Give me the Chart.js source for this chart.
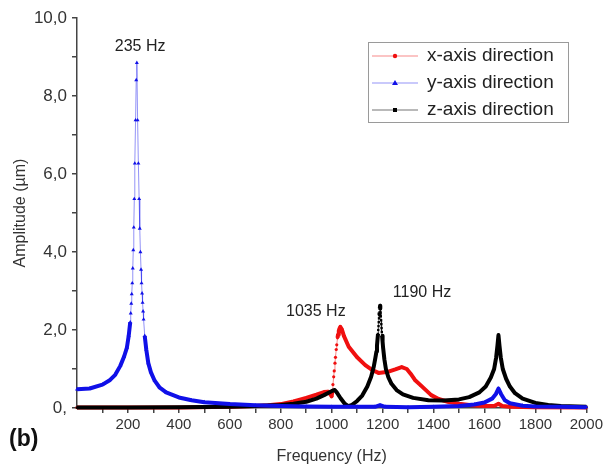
<!DOCTYPE html>
<html>
<head>
<meta charset="utf-8">
<script src="https://cdn.jsdelivr.net/npm/chart.js@4.4.1/dist/chart.umd.min.js"></script>
<style>
  html, body { margin: 0; padding: 0; background: #fff; }
  #wrap { width: 606px; height: 466px; }
</style>
</head>
<body>
<div id="wrap"><canvas id="ampChart" width="606" height="466"></canvas></div>
<script>
// x-axis direction (red)
var freqX = [0, 200, 400, 600, 700, 750, 800, 850, 900, 940, 970, 985, 995, 1000, 1003, 1005, 1008, 1010, 1013, 1015, 1018, 1020, 1023, 1025, 1028, 1031, 1034, 1040, 1048, 1067, 1100, 1132, 1160, 1184, 1223, 1250, 1275, 1295, 1310, 1327, 1350, 1391, 1420, 1456, 1500, 1550, 1600, 1640, 1655, 1670, 1700, 1800, 2000];
var ampX  = [0.01, 0.01, 0.015, 0.03, 0.05, 0.07, 0.1, 0.17, 0.26, 0.34, 0.41, 0.42, 0.35, 0.3, 0.45, 0.6, 0.8, 0.95, 1.15, 1.3, 1.5, 1.62, 1.8, 1.88, 1.98, 2.04, 2.08, 2.02, 1.85, 1.57, 1.3, 1.1, 0.97, 0.9, 0.93, 0.99, 1.05, 1.0, 0.88, 0.72, 0.58, 0.33, 0.23, 0.16, 0.11, 0.07, 0.05, 0.06, 0.11, 0.05, 0.03, 0.02, 0.01];

// y-axis direction (blue)
var freqY = [0, 50, 100, 130, 150, 170, 185, 196, 203, 209, 211, 213, 215, 217, 219, 221, 223, 225, 227, 230, 232.5, 235, 238, 241, 244, 246.5, 249, 251.5, 253.5, 255.5, 257.5, 259.5, 261.5, 266, 272, 280, 290, 305, 325, 350, 400, 450, 500, 600, 700, 800, 900, 1000, 1100, 1170, 1190, 1210, 1300, 1400, 1500, 1560, 1600, 1630, 1645, 1655, 1665, 1680, 1700, 1750, 1800, 1900, 2000];
var ampY  = [0.48, 0.5, 0.6, 0.72, 0.85, 1.08, 1.32, 1.55, 1.85, 2.2, 2.43, 2.68, 2.92, 3.2, 3.58, 4.05, 4.63, 5.36, 6.27, 7.38, 8.41, 8.85, 7.38, 6.27, 5.36, 4.6, 4.0, 3.55, 3.2, 2.94, 2.7, 2.48, 2.27, 1.85, 1.5, 1.15, 0.92, 0.7, 0.52, 0.4, 0.27, 0.2, 0.15, 0.1, 0.07, 0.05, 0.04, 0.03, 0.03, 0.03, 0.07, 0.03, 0.02, 0.03, 0.05, 0.09, 0.14, 0.24, 0.36, 0.5, 0.36, 0.2, 0.12, 0.06, 0.04, 0.03, 0.02];

// z-axis direction (black)
var freqZ = [0, 200, 400, 600, 700, 800, 850, 900, 940, 970, 990, 1005, 1012, 1020, 1035, 1050, 1065, 1080, 1100, 1120, 1140, 1155, 1165, 1172, 1176, 1178, 1180, 1182, 1183, 1184, 1185, 1186, 1187, 1188, 1189, 1190, 1191, 1192, 1193, 1194, 1195, 1196, 1197, 1198, 1200, 1202, 1207, 1213, 1222, 1235, 1255, 1280, 1320, 1380, 1440, 1500, 1540, 1580, 1605, 1625, 1638, 1646, 1651, 1655, 1659, 1664, 1672, 1685, 1700, 1720, 1750, 1800, 1850, 1900, 2000];
var ampZ  = [0.01, 0.01, 0.02, 0.03, 0.05, 0.08, 0.11, 0.16, 0.24, 0.33, 0.4, 0.45, 0.46, 0.4, 0.25, 0.12, 0.05, 0.08, 0.18, 0.32, 0.55, 0.8, 1.05, 1.3, 1.45, 1.6, 1.75, 1.9, 2.0, 2.1, 2.2, 2.3, 2.38, 2.45, 2.55, 2.62, 2.55, 2.45, 2.35, 2.25, 2.15, 2.05, 1.95, 1.85, 1.7, 1.55, 1.25, 1.0, 0.8, 0.62, 0.46, 0.35, 0.26, 0.2, 0.19, 0.22, 0.28, 0.4, 0.55, 0.78, 1.0, 1.3, 1.6, 1.87, 1.6, 1.3, 1.0, 0.75, 0.55, 0.38, 0.24, 0.13, 0.08, 0.05, 0.03];

var seriesNames = ['x-axis direction', 'y-axis direction', 'z-axis direction'];
var peakNotes = ['235 Hz', '1035 Hz', '1190 Hz'];
var peakNoteX = [248, 938, 1355];
var peakNoteY = [9.26, 2.46, 2.97];

function toPoints(xs, ys) {
  return xs.map(function (x, i) { return { x: x, y: ys[i] }; });
}

// dense markers look like a thick band, steep parts show single dots on a thin line
function steepTest(limit) {
  return function (ctx) {
    var dx = Math.abs(ctx.p1.x - ctx.p0.x);
    var dy = Math.abs(ctx.p1.y - ctx.p0.y);
    return dy > 2.5 && dy > limit * dx;
  };
}

var styles = [
  { color: '#f01010', light: 'rgba(240,40,40,0.55)', marker: 'circle', r: 1.6, order: 3, steep: 9 },
  { color: '#1010e8', light: 'rgba(40,40,240,0.5)', marker: 'triangle', r: 2.3, order: 1, steep: 9 },
  { color: '#000000', light: 'rgba(0,0,0,0.55)', marker: 'rect', r: 1.7, order: 2, steep: 12 }
];
var allData = [toPoints(freqX, ampX), toPoints(freqY, ampY), toPoints(freqZ, ampZ)];

var datasets = allData.map(function (pts, i) {
  var s = styles[i];
  var steep = steepTest(s.steep);
  return {
    label: seriesNames[i],
    data: pts,
    borderColor: s.color,
    backgroundColor: s.color,
    borderWidth: 4,
    borderJoinStyle: 'round',
    pointStyle: s.marker,
    pointRadius: s.r,
    pointBorderWidth: 0,
    pointBackgroundColor: s.color,
    order: s.order,
    clip: false,
    segment: {
      borderWidth: function (ctx) { return steep(ctx) ? 1 : 4; },
      borderColor: function (ctx) { return steep(ctx) ? s.light : s.color; }
    }
  };
});

// legend box drawn by hand: line with marker in the middle, like the original
var legendBox = {
  id: 'legendBox',
  afterDraw: function (chart) {
    var c = chart.ctx;
    var left = 368, top = 42, w = 200, h = 80;
    c.save();
    c.fillStyle = '#fff';
    c.fillRect(left, top, w, h);
    c.strokeStyle = '#9a9a9a';
    c.lineWidth = 1;
    c.strokeRect(left + 0.5, top + 0.5, w, h);
    c.font = '19px "Liberation Sans", Arial, sans-serif';
    c.textBaseline = 'middle';
    chart.data.datasets.forEach(function (ds, i) {
      var y = top + 14 + i * 27;
      var s = styles[i];
      c.strokeStyle = s.light;
      c.lineWidth = 1;
      c.beginPath();
      c.moveTo(left + 4, y);
      c.lineTo(left + 50, y);
      c.stroke();
      c.fillStyle = s.color;
      var mx = left + 27;
      if (s.marker === 'circle') {
        c.beginPath(); c.arc(mx, y, 2.2, 0, Math.PI * 2); c.fill();
      } else if (s.marker === 'triangle') {
        c.beginPath(); c.moveTo(mx, y - 3); c.lineTo(mx + 3, y + 2); c.lineTo(mx - 3, y + 2); c.closePath(); c.fill();
      } else {
        c.fillRect(mx - 2, y - 2, 4, 4);
      }
      c.fillStyle = '#222';
      c.fillText(ds.label, left + 59, y);
    });
    c.restore();
  }
};

// peak labels and the panel letter
var notes = {
  id: 'notes',
  afterDraw: function (chart) {
    var c = chart.ctx;
    var xs = chart.scales.x, ys = chart.scales.y;
    c.save();
    c.fillStyle = '#222';
    c.font = '16px "Liberation Sans", Arial, sans-serif';
    c.textAlign = 'center';
    c.textBaseline = 'middle';
    peakNotes.forEach(function (t, i) {
      c.fillText(t, xs.getPixelForValue(peakNoteX[i]), ys.getPixelForValue(peakNoteY[i]));
    });
    c.textAlign = 'left';
    c.font = 'bold 23px "Liberation Sans", Arial, sans-serif';
    c.fillStyle = '#111';
    c.fillText('(b)', 9, 440);
    c.restore();
  }
};

Chart.defaults.font.family = '"Liberation Sans", Arial, sans-serif';
Chart.defaults.color = '#333';

var ctx = document.getElementById('ampChart').getContext('2d');
var ampChart = new Chart(ctx, {
  type: 'line',
  data: { datasets: datasets },
  options: {
    responsive: false,
    animation: false,
    parsing: false,
    layout: { padding: { top: 18, right: 17, left: 0, bottom: 0 } },
    plugins: {
      legend: { display: false },
      tooltip: { enabled: false }
    },
    scales: {
      x: {
        type: 'linear',
        min: 0,
        max: 2000,
        afterFit: function (scale) { scale.height = 58; },
        ticks: {
          stepSize: 100,
          autoSkip: false,
          maxRotation: 0,
          padding: 3,
          font: { size: 15 },
          color: '#333',
          callback: function (v) { return (v % 200 === 0 && v > 0) ? String(v) : ''; }
        },
        grid: {
          drawOnChartArea: false,
          tickLength: 5,
          lineWidth: 1.5,
          color: function (c) { return c.tick && c.tick.value === 0 ? 'rgba(0,0,0,0)' : '#444'; }
        },
        border: { color: '#444', width: 1.5 },
        title: {
          display: true,
          text: 'Frequency (Hz)',
          font: { size: 16 },
          color: '#333',
          padding: { top: 1, bottom: 0 }
        }
      },
      y: {
        min: 0,
        max: 10,
        afterFit: function (scale) { scale.width = 77; },
        ticks: {
          stepSize: 1,
          padding: 5,
          font: { size: 17 },
          color: '#333',
          callback: function (v) {
            if (v % 2 !== 0) return '';
            return v === 0 ? '0,' : v.toFixed(1).replace('.', ',');
          }
        },
        grid: {
          drawOnChartArea: false,
          tickLength: 5,
          lineWidth: 1.5,
          color: '#444'
        },
        border: { color: '#444', width: 1.5 },
        title: {
          display: true,
          text: 'Amplitude (µm)',
          font: { size: 16 },
          color: '#333',
          padding: { top: 11, bottom: 0 }
        }
      }
    }
  },
  plugins: [legendBox, notes]
});
</script>
</body>
</html>
